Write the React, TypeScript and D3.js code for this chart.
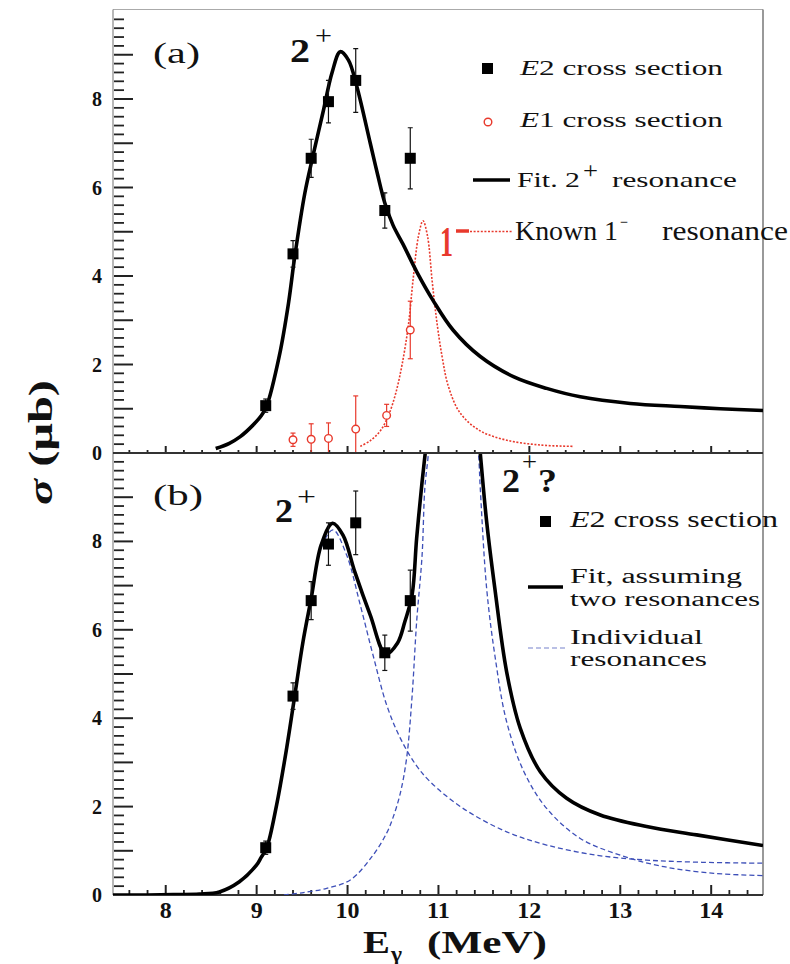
import React from "react";
import * as d3 from "d3";

// ---------- data ----------
const xTicks = [8, 9, 10, 11, 12, 13, 14];
const yTickLabels = [0, 2, 4, 6, 8];

// E2 cross section (both panels)
const e2E = [9.1, 9.4, 9.6, 9.79, 10.09, 10.41, 10.69];
const e2S = [1.07, 4.5, 6.66, 7.94, 8.42, 5.48, 6.66];
const e2Err = [0.15, 0.3, 0.43, 0.48, 0.72, 0.4, 0.69];

// E1 cross section (panel a)
const e1E = [9.4, 9.6, 9.79, 10.09, 10.43, 10.69];
const e1S = [0.3, 0.31, 0.33, 0.54, 0.85, 2.78];
const e1Err = [0.15, 0.35, 0.35, 0.75, 0.25, 0.65];

// Fit 2+ resonance (panel a)
const fitAE = [8.55, 8.7, 8.82, 8.96, 9.05, 9.11, 9.25, 9.35, 9.42, 9.53, 9.62, 9.73, 9.83, 9.92, 10.01, 10.1, 10.25, 10.33, 10.41, 10.5, 10.61, 10.76, 10.94, 11.16, 11.46, 11.83, 12.19, 12.56, 13.11, 13.66, 14.1, 14.57];
const fitAS = [0.1, 0.22, 0.37, 0.63, 0.84, 1.06, 2.2, 3.38, 4.45, 5.87, 6.72, 7.7, 8.6, 9.07, 8.88, 8.3, 7.0, 6.3, 5.65, 5.15, 4.72, 4.1, 3.45, 2.78, 2.18, 1.72, 1.46, 1.27, 1.12, 1.05, 1.0, 0.96];

// Known 1- resonance (panel a)
const redE = [10.14, 10.25, 10.36, 10.45, 10.53, 10.6, 10.67, 10.72, 10.78, 10.83, 10.88, 10.93, 10.98, 11.04, 11.11, 11.24, 11.46, 11.75, 12.12, 12.49];
const redS = [0.15, 0.28, 0.5, 0.85, 1.35, 2.0, 2.9, 3.9, 4.9, 5.25, 4.9, 3.9, 3.0, 2.18, 1.5, 0.9, 0.5, 0.29, 0.18, 0.15];

// Fit assuming two resonances (panel b)
const fitBE = [7.42, 7.8, 8.1, 8.37, 8.59, 8.81, 9.0, 9.05, 9.11, 9.22, 9.33, 9.42, 9.51, 9.6, 9.71, 9.835, 9.95, 10.08, 10.25, 10.42, 10.55, 10.63, 10.71, 10.76, 10.82, 10.86, 10.95, 11.15, 11.38, 11.46, 11.53, 11.62, 11.75, 11.9, 12.12, 12.41, 12.78, 13.29, 13.84, 14.57];
const fitBS = [0.0, 0.0, 0.01, 0.02, 0.07, 0.3, 0.68, 0.85, 1.06, 2.04, 3.32, 4.52, 5.73, 6.71, 7.92, 8.41, 8.14, 7.31, 6.33, 5.45, 5.7, 6.18, 6.79, 8.07, 9.35, 10.1, 12, 14, 12, 10.0, 8.45, 6.94, 5.05, 3.77, 2.79, 2.19, 1.81, 1.55, 1.36, 1.12];

// Individual resonances (panel b)
const res1E = [7.42, 7.8, 8.1, 8.37, 8.59, 8.81, 9.0, 9.05, 9.11, 9.22, 9.33, 9.42, 9.51, 9.6, 9.71, 9.84, 9.99, 10.14, 10.28, 10.43, 10.58, 10.75, 10.91, 11.27, 11.75, 12.19, 12.74, 13.29, 13.9, 14.57];
const res1S = [0.0, 0.0, 0.01, 0.02, 0.07, 0.29, 0.66, 0.83, 1.03, 2.0, 3.28, 4.48, 5.68, 6.65, 7.85, 8.26, 7.69, 6.56, 5.43, 4.3, 3.55, 2.95, 2.56, 1.96, 1.43, 1.13, 0.9, 0.79, 0.74, 0.72];
const res2E = [9.3, 9.5, 9.77, 10.03, 10.28, 10.43, 10.5, 10.58, 10.65, 10.71, 10.76, 10.82, 10.85, 10.89, 11.0, 11.15, 11.3, 11.44, 11.46, 11.53, 11.62, 11.75, 11.94, 12.19, 12.56, 13.0, 13.48, 14.03, 14.57];
const res2S = [0.0, 0.05, 0.15, 0.34, 0.9, 1.4, 1.75, 2.3, 3.1, 4.5, 6.18, 7.69, 9.2, 10.0, 13, 16, 13, 10.0, 9.2, 6.94, 5.43, 3.92, 2.79, 1.96, 1.28, 0.9, 0.64, 0.49, 0.44];

// ---------- layout ----------
const W = 790;
const H = 964;
const L = 113;
const R = 763;
const TOP = 10.5;
const MID = 453;
const BOT = 895;
const SERIF = "'Liberation Serif', 'DejaVu Serif', serif";

const x = d3.scaleLinear().domain([7.42, 14.57]).range([L, R]);
const yA = d3.scaleLinear().domain([0, 10]).range([MID, TOP]);
const yB = d3.scaleLinear().domain([0, 10]).range([BOT, MID]);

const zip = (a: number[], b: number[]) => a.map((v, i) => [v, b[i]] as [number, number]);

function linePath(E: number[], S: number[], y: d3.ScaleLinear<number, number>) {
  const g = d3
    .line<[number, number]>()
    .x((d) => x(d[0]))
    .y((d) => y(d[1]))
    .curve(d3.curveCatmullRom.alpha(0.5));
  return g(zip(E, S)) || "";
}

type TP = {
  x: number;
  y: number;
  w?: number;
  size: number;
  bold?: boolean;
  italic?: boolean;
  fill?: string;
  anchor?: "start" | "middle" | "end";
  transform?: string;
  children: React.ReactNode;
};
function T({ x, y, w, size, bold, italic, fill, anchor, transform, children }: TP) {
  return (
    <text
      x={x}
      y={y}
      fontFamily={SERIF}
      fontSize={size}
      fontWeight={bold ? "bold" : "normal"}
      fontStyle={italic ? "italic" : "normal"}
      fill={fill || "#111"}
      textAnchor={anchor || "start"}
      textLength={w}
      lengthAdjust={w ? "spacingAndGlyphs" : undefined}
      transform={transform}
    >
      {children}
    </text>
  );
}

function Axes({ y, top, bottom, xTickUp }: { y: d3.ScaleLinear<number, number>; top: number; bottom: number; xTickUp: [number, number] }) {
  const minorY = d3.range(1, 50).map((i) => i / 5).filter((v) => Math.abs(v - Math.round(v)) > 1e-6);
  const majorY = d3.range(1, 10);
  const minorX = d3.range(38, 73).map((i) => i / 5).filter((v) => Math.abs(v - Math.round(v)) > 1e-6);
  return (
    <g>
      {minorY.map((v) => (
        <line key={"my" + v} x1={L + 1} x2={L + 11} y1={y(v)} y2={y(v)} stroke="#222" strokeWidth={1.8} />
      ))}
      {majorY.map((v) => (
        <line key={"My" + v} x1={L + 1} x2={L + 20} y1={y(v)} y2={y(v)} stroke="#222" strokeWidth={2} />
      ))}
      {minorX.map((v) => (
        <line key={"mx" + v} x1={x(v)} x2={x(v)} y1={bottom} y2={bottom - xTickUp[1]} stroke="#222" strokeWidth={1.8} />
      ))}
      {xTicks.map((v) => (
        <line key={"Mx" + v} x1={x(v)} x2={x(v)} y1={bottom} y2={bottom - xTickUp[0]} stroke="#222" strokeWidth={2} />
      ))}
      {yTickLabels.map((v) => (
        <T key={"yl" + v} x={102} y={y(v) + 7} size={20} bold anchor="end">
          {v}
        </T>
      ))}
      <line x1={L} x2={L} y1={top} y2={bottom} stroke="#888" strokeWidth={1.2} />
      <line x1={R} x2={R} y1={top} y2={bottom} stroke="#777" strokeWidth={1.5} />
      <line x1={L} x2={R} y1={bottom} y2={bottom} stroke="#333" strokeWidth={2.2} />
    </g>
  );
}

function ErrBar({ cx, y1, y2, color, w }: { cx: number; y1: number; y2: number; color: string; w: number }) {
  return (
    <g stroke={color} strokeWidth={1.2}>
      <line x1={cx} x2={cx} y1={y1} y2={y2} />
      <line x1={cx - w} x2={cx + w} y1={y1} y2={y1} />
      <line x1={cx - w} x2={cx + w} y1={y2} y2={y2} />
    </g>
  );
}

function E2Points({ y }: { y: d3.ScaleLinear<number, number> }) {
  return (
    <g>
      {e2E.map((e, i) => (
        <g key={"e2" + i}>
          <ErrBar cx={x(e)} y1={y(e2S[i] + e2Err[i])} y2={y(Math.max(0, e2S[i] - e2Err[i]))} color="#111" w={2.5} />
          <rect x={x(e) - 5.5} y={y(e2S[i]) - 5.5} width={11} height={11} fill="#000" />
        </g>
      ))}
    </g>
  );
}

export default function App() {
  const red = "#e8392c";
  const blue = "#3d4fb8";
  return (
    <svg width={W} height={H} style={{ position: "absolute", left: 0, top: 0, background: "#fff" }}>
      <defs>
        <clipPath id="clipA">
          <rect x={L} y={TOP} width={R - L} height={MID - TOP} />
        </clipPath>
        <clipPath id="clipB">
          <rect x={L} y={MID} width={R - L} height={BOT - MID} />
        </clipPath>
      </defs>
      <rect x={0} y={0} width={W} height={H} fill="#fff" />

      {/* ---------- panel (a) ---------- */}
      <line x1={L} x2={R} y1={9.5} y2={9.5} stroke="#aaa" strokeWidth={1} />
      <Axes y={yA} top={9.5} bottom={MID} xTickUp={[7, 3]} />
      <g clipPath="url(#clipA)">
        <path d={linePath(redE, redS, yA)} fill="none" stroke={red} strokeWidth={1.6} strokeDasharray="2,1.6" />
        <path d={linePath(fitAE, fitAS, yA)} fill="none" stroke="#000" strokeWidth={3.6} />
        {e1E.map((e, i) => (
          <g key={"e1" + i}>
            <ErrBar cx={x(e)} y1={yA(e1S[i] + e1Err[i])} y2={yA(Math.max(0, e1S[i] - e1Err[i]))} color={red} w={2.5} />
            <circle cx={x(e)} cy={yA(e1S[i])} r={3.8} fill="#fff" stroke={red} strokeWidth={1.4} />
          </g>
        ))}
        <E2Points y={yA} />
      </g>
      <T x={153} y={63} w={47} size={30}>(a)</T>
      <T x={290} y={62} w={20} size={34} bold>2</T>
      <T x={315} y={45} w={17} size={28}>+</T>
      <T x={440} y={256} w={13} size={42} bold fill={red}>1</T>
      <line x1={456} x2={469} y1={231} y2={231} stroke={red} strokeWidth={3.5} />

      {/* legend (a) */}
      <rect x={482} y={63} width={11} height={11} fill="#000" />
      <T x={520} y={75} w={203} size={21}>
        <tspan fontStyle="italic">E</tspan>2 cross section
      </T>
      <circle cx={488} cy={122} r={3.8} fill="#fff" stroke={red} strokeWidth={1.4} />
      <T x={520} y={127} w={203} size={21}>
        <tspan fontStyle="italic">E</tspan>1 cross section
      </T>
      <line x1={473} x2={510} y1={180} y2={180} stroke="#000" strokeWidth={3.5} />
      <T x={517} y={187} w={63} size={22}>Fit. 2</T>
      <T x={583} y={178} w={15} size={24}>+</T>
      <T x={612} y={187} w={125} size={21}>resonance</T>
      <line x1={470} x2={512} y1={231.5} y2={231.5} stroke={red} strokeWidth={1.6} strokeDasharray="2,1.6" />
      <T x={515} y={240} w={103} size={28}>Known 1</T>
      <T x={620} y={228} w={8} size={18}>−</T>
      <T x={662} y={240} w={126} size={28}>resonance</T>

      {/* ---------- panel (b) ---------- */}
      <Axes y={yB} top={MID} bottom={BOT} xTickUp={[10, 5]} />
      <g clipPath="url(#clipB)">
        <path d={linePath(res1E, res1S, yB)} fill="none" stroke={blue} strokeWidth={1.3} strokeDasharray="5,3" />
        <path d={linePath(res2E, res2S, yB)} fill="none" stroke={blue} strokeWidth={1.3} strokeDasharray="5,3" />
        <path d={linePath(fitBE, fitBS, yB)} fill="none" stroke="#000" strokeWidth={3.6} />
        <E2Points y={yB} />
      </g>
      <line x1={L} x2={R} y1={MID} y2={MID} stroke="#333" strokeWidth={2.2} />
      <T x={153} y={505} w={50} size={30}>(b)</T>
      <T x={275} y={522} w={18} size={34} bold>2</T>
      <T x={297} y={506} w={19} size={28}>+</T>
      <T x={502} y={492} w={18} size={34} bold>2</T>
      <T x={522} y={471} w={15} size={28}>+</T>
      <T x={538} y={492} w={19} size={34} bold>?</T>

      {/* legend (b) */}
      <rect x={540} y={516} width={11} height={11} fill="#000" />
      <T x={570} y={527} w={208} size={23}>
        <tspan fontStyle="italic">E</tspan>2 cross section
      </T>
      <line x1={528} x2={563} y1={587} y2={587} stroke="#000" strokeWidth={3.5} />
      <T x={570} y={583} w={172} size={20}>Fit, assuming</T>
      <T x={570} y={606} w={190} size={20}>two resonances</T>
      <line x1={528} x2={565} y1={648} y2={648} stroke={blue} strokeWidth={1.2} strokeDasharray="5,3" opacity={0.7} />
      <T x={570} y={644} w={133} size={20}>Individual</T>
      <T x={570} y={666} w={137} size={20}>resonances</T>

      {/* x tick labels */}
      {xTicks.map((v) => (
        <T key={"xl" + v} x={x(v)} y={918} size={24} bold anchor="middle">
          {v}
        </T>
      ))}

      {/* axis titles */}
      <T x={363} y={953} w={27} size={32} bold>E</T>
      <T x={391} y={961} w={11} size={20} bold>γ</T>
      <T x={427} y={953} w={120} size={32} bold>(MeV)</T>
      <g transform="translate(52,442.5) rotate(-90)">
        <T x={0} y={0} w={125} size={34} bold anchor="middle">
          <tspan fontStyle="italic">σ</tspan> (μb)
        </T>
      </g>
    </svg>
  );
}
